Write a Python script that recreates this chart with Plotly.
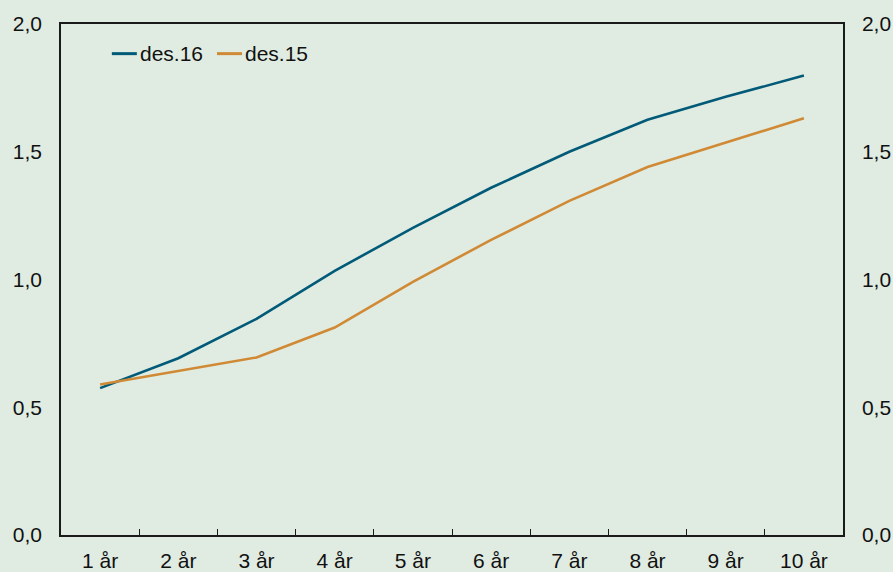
import plotly.graph_objects as go

categories = ["1 år", "2 år", "3 år", "4 år", "5 år", "6 år", "7 år", "8 år", "9 år", "10 år"]
des16 = [0.575, 0.692, 0.846, 1.034, 1.202, 1.359, 1.500, 1.625, 1.715, 1.798]
des15 = [0.589, 0.643, 0.695, 0.812, 0.991, 1.155, 1.308, 1.440, 1.535, 1.631]
series_names = ["des.16", "des.15"]
colors = ["#005a78", "#d08a35"]
y_ticks = [0.0, 0.5, 1.0, 1.5, 2.0]

BG = "#e0ece2"
FONT = dict(family="Liberation Sans, Arial, sans-serif", size=21, color="#111111")

fig = go.Figure()
for name, vals, col in zip(series_names, [des16, des15], colors):
    fig.add_trace(go.Scatter(x=categories, y=vals, mode="lines", name=name,
                             line=dict(color=col, width=2.6), showlegend=False))
# invisible trace to activate right axis
fig.add_trace(go.Scatter(x=categories, y=des16, yaxis="y2", mode="lines",
                         line=dict(width=0), hoverinfo="skip", showlegend=False, opacity=0))

# manual legend (line samples + labels)
leg_x = [0.065, 0.1995]
for i, (name, col) in enumerate(zip(series_names, colors)):
    x0 = leg_x[i]
    fig.add_shape(type="line", xref="paper", yref="paper", x0=x0, x1=x0 + 0.032,
                  y0=0.942, y1=0.942, line=dict(color=col, width=3))
    fig.add_annotation(text=name, xref="paper", yref="paper", x=x0 + 0.033, y=0.942,
                       xanchor="left", yanchor="middle", showarrow=False, font=FONT)

axis_line = dict(showline=True, linecolor="#1a1a1a", linewidth=1.5, showgrid=False,
                 zeroline=False, automargin=False)
fig.update_layout(
    width=893, height=572,
    margin=dict(l=61, r=50, t=24, b=37),
    paper_bgcolor=BG, plot_bgcolor=BG,
    separators=", ",
    font=FONT,
    xaxis=dict(**axis_line, mirror=True, range=[-0.5, 9.5], ticks="inside",
               tickson="boundaries", ticklen=6, tickcolor="#1a1a1a", tickwidth=1.2,
               ticklabelstandoff=6, tickfont=FONT),
    yaxis=dict(**axis_line, range=[0, 2], tickvals=y_ticks, tickformat=".1f",
               ticks="", ticklabelstandoff=13, tickfont=FONT),
    yaxis2=dict(**axis_line, range=[0, 2], tickvals=y_ticks, tickformat=".1f",
                overlaying="y", side="right", ticks="", ticklabelstandoff=13, tickfont=FONT),
)

fig.write_html("out.html")
